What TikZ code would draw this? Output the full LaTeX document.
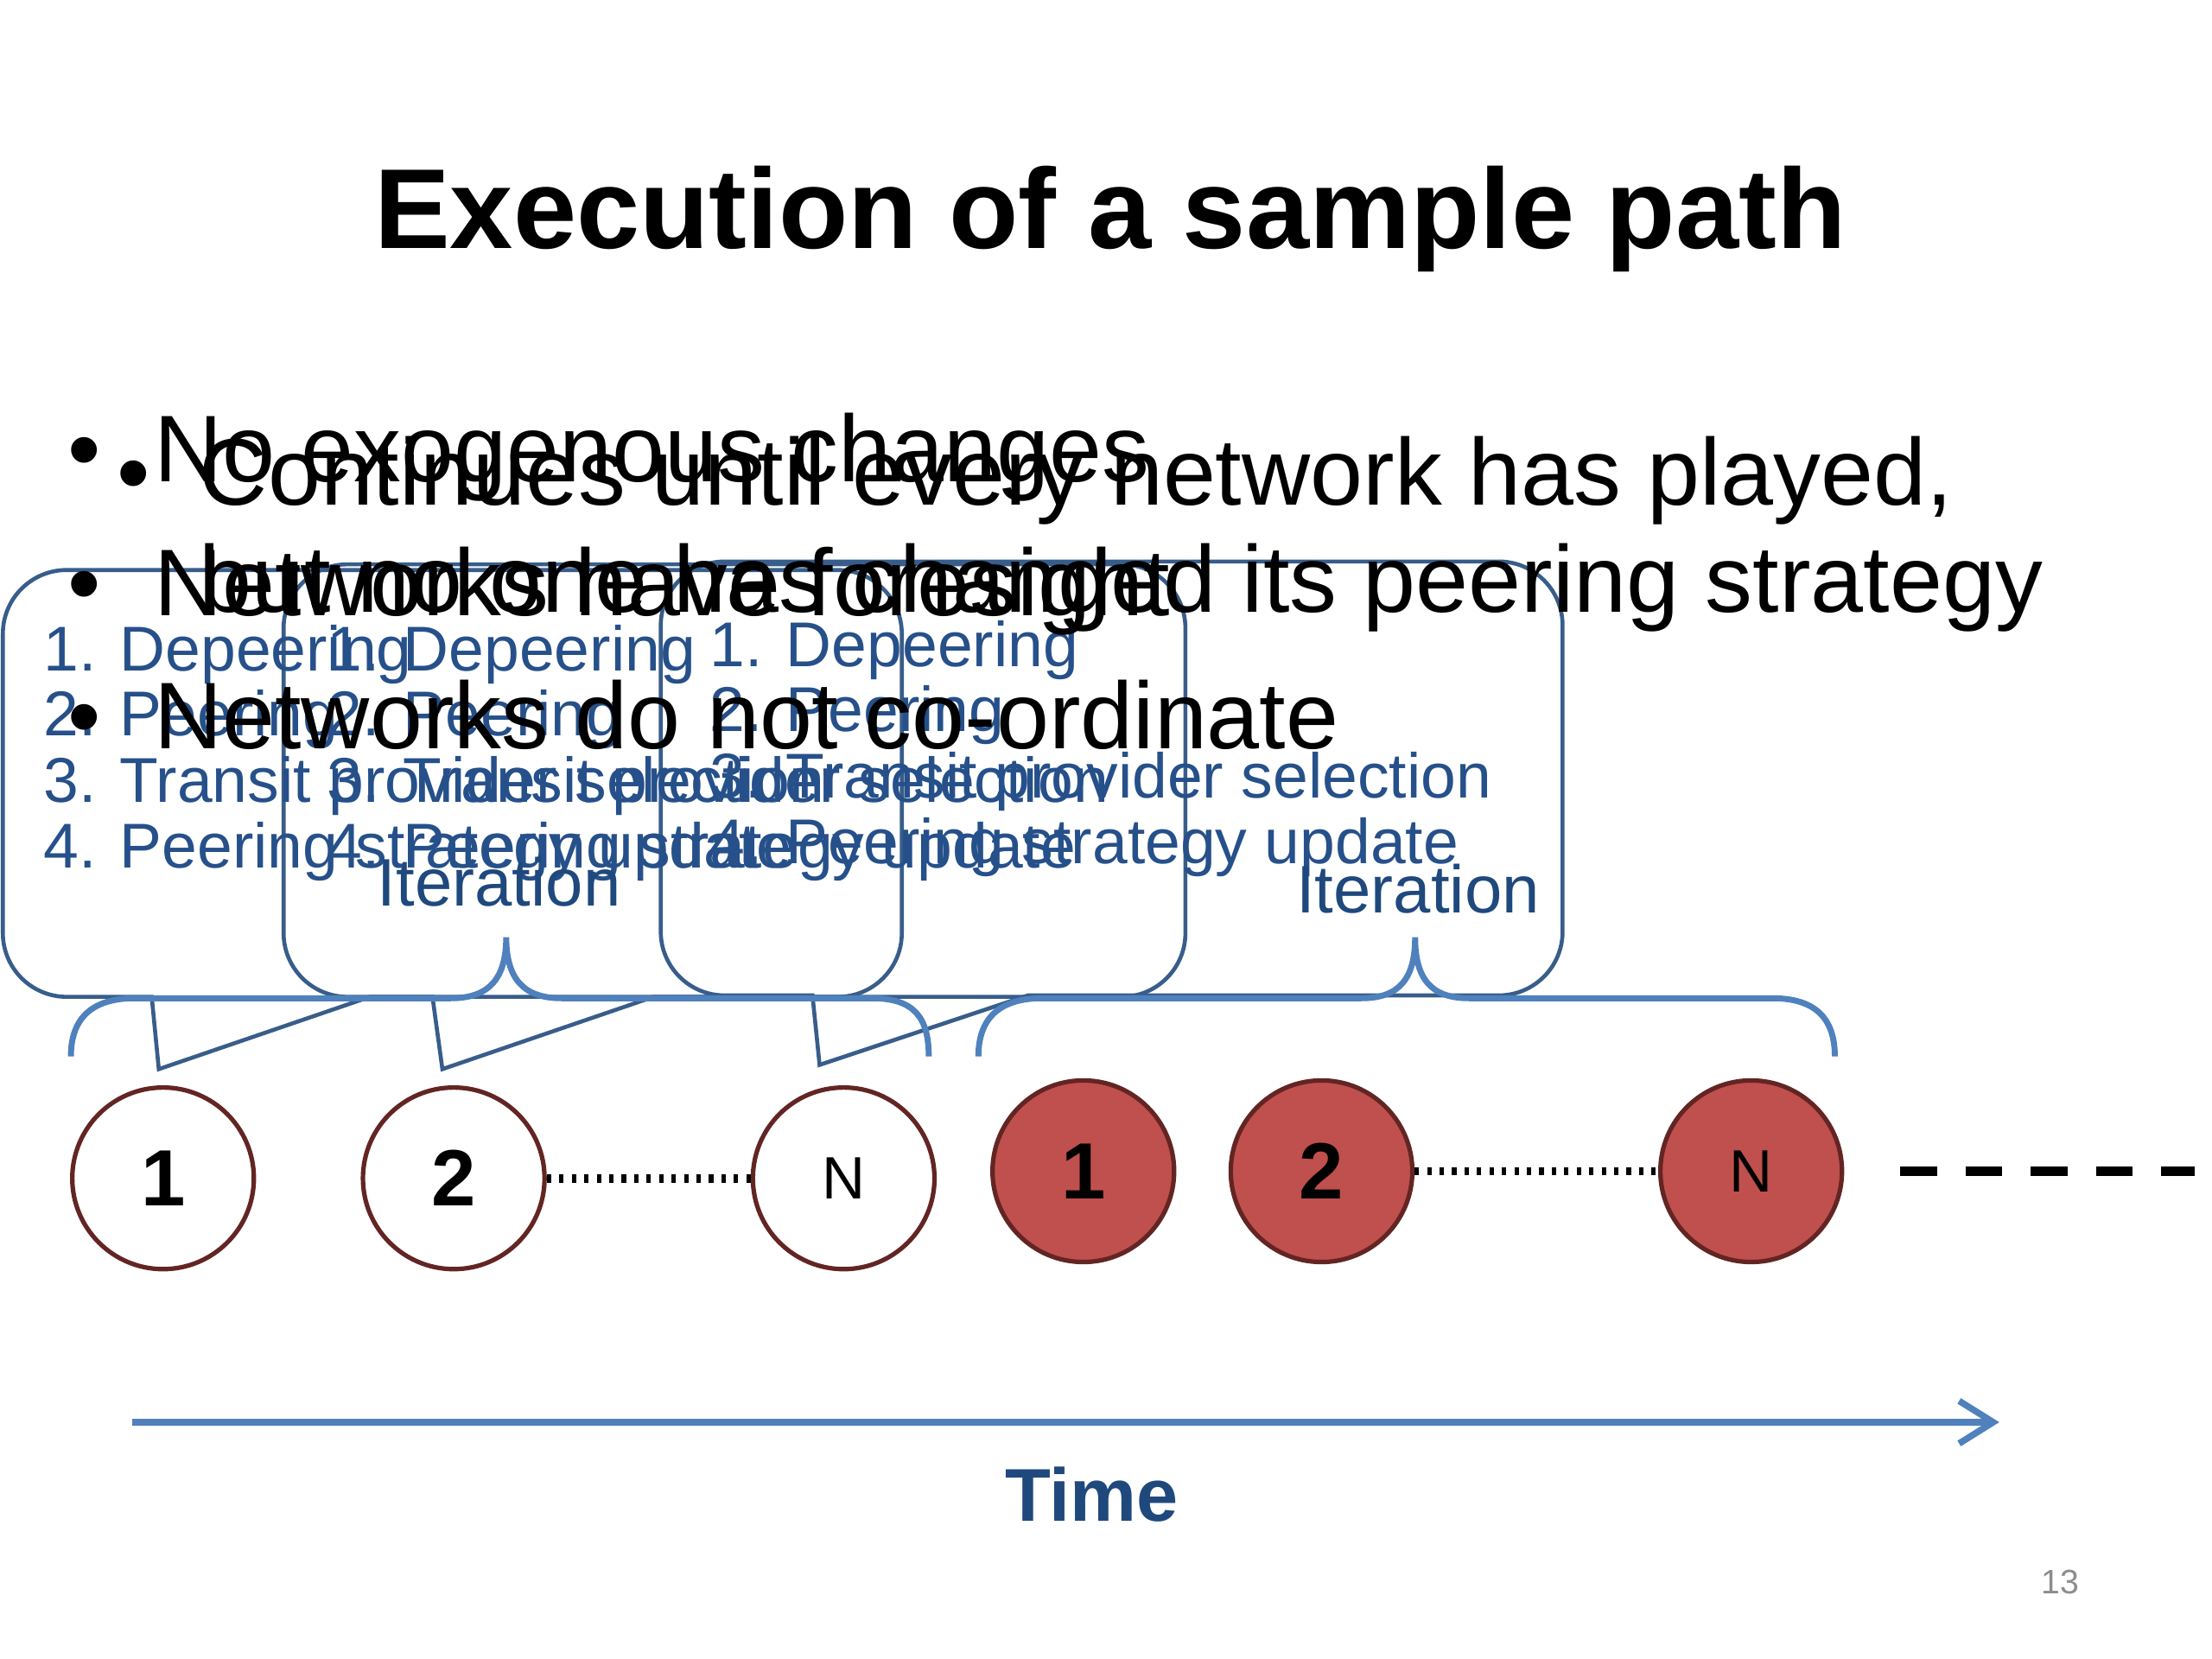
\documentclass[tikz,border=0pt]{standalone}
\usepackage{fontspec}
\setmainfont{Liberation Sans}
\usepackage{tikz}
\usetikzlibrary{arrows.meta}

\definecolor{calloutblue}{RGB}{56,93,138}
\definecolor{listblue}{RGB}{38,80,138}
\definecolor{braceblue}{RGB}{79,129,189}
\definecolor{darkblue}{RGB}{31,73,125}
\definecolor{nodered}{RGB}{192,80,77}
\definecolor{nodeline}{RGB}{99,37,35}
\definecolor{pagegray}{RGB}{140,140,140}

\begin{document}
\begin{tikzpicture}[x=0.01cm,y=-0.01cm,
	callout/.style={draw=calloutblue, line width=0.8pt},
	brace/.style={draw=braceblue, line width=1.2pt},
	listtext/.style={anchor=base west, inner sep=0pt, text=listblue, font=\fontsize{12.7}{15}\selectfont},
	itertext/.style={anchor=base, inner sep=0pt, text=darkblue, font=\fontsize{13.5}{16}\selectfont},
	bullettext/.style={anchor=base west, inner sep=0pt, font=\fontsize{19}{23}\selectfont},
	player/.style={circle, draw=nodeline, line width=0.9pt, minimum size=1.28cm, inner sep=0pt},
	played/.style={player, fill=nodered},
	bignum/.style={font=\bfseries\fontsize{16}{18}\selectfont},
	smallnum/.style={font=\fontsize{12}{14}\selectfont},
	dotline/.style={line width=1.7pt, dash pattern=on 0.9pt off 1.6pt},
	tail/.style={line width=2pt, dash pattern=on 0.26cm off 0.2cm},
	timeline/.style={draw=braceblue, line width=1.3pt, -{Straight Barb[length=0.24cm,width=0.3cm]}}]
	\tikzstyle{every node}=[scale=1.0000]
	
	\useasboundingbox (0,0) rectangle (1560,1170);
	
	%% title
	\node[anchor=base, font=\bfseries\fontsize{22.8}{27}\selectfont] (title) at (783,175) {Execution of a sample path};
	
	%% callouts
	\draw[callout] (112,754) -- (261,703) [rounded corners=0.45cm] -- (636,703) -- (636,402) -- (2,402) -- (2,703) [sharp corners] -- (107,703) -- cycle;
	\draw[callout] (312,754) -- (461,703) [rounded corners=0.45cm] -- (836,703) -- (836,398) -- (200,398) -- (200,703) [sharp corners] -- (305,703) -- cycle;
	\draw[callout] (578,751) -- (725,702) [rounded corners=0.45cm] -- (1102,702) -- (1102,396) -- (466,396) -- (466,702) [sharp corners] -- (573,702) -- cycle;
	
	\node[listtext] (depA) at (30,473) {1. Depeering};
	\node[listtext] (peerA) at (30,519) {2. Peering};
	\node[listtext] (transA) at (30,566) {3. Transit provider selection};
	\node[listtext] (stratA) at (30,612) {4. Peering strategy update};
	
	\node[listtext] (depB) at (230,473) {1. Depeering};
	\node[listtext] (peerB) at (230,519) {2. Peering};
	\node[listtext] (transB) at (230,566) {3. Transit provider selection};
	\node[listtext] (stratB) at (230,612) {4. Peering strategy update};
	
	\node[listtext] (depC) at (500,470) {1. Depeering};
	\node[listtext] (peerC) at (500,516) {2. Peering};
	\node[listtext] (transC) at (500,563) {3. Transit provider selection};
	\node[listtext] (stratC) at (500,609) {4. Peering strategy update};
	
	%% braces
	\draw[brace] (50,745) .. controls (50,718) and (65,704) .. (95,704) -- (318,704) .. controls (345,704) and (357,690) .. (357,661) .. controls (357,690) and (369,704) .. (396,704) -- (615,704) .. controls (645,704) and (655,718) .. (655,745);
	\draw[brace] (690,745) .. controls (690,718) and (705,704) .. (735,704) -- (960,704) .. controls (987,704) and (998,690) .. (998,661) .. controls (998,690) and (1009,704) .. (1036,704) -- (1250,704) .. controls (1280,704) and (1294,718) .. (1294,745);
	
	\node[itertext] (iterA) at (352,639) {Iteration};
	\node[itertext] (iterB) at (1000,644) {Iteration};
	
	%% bullets
	\node[bullettext] (dotA) at (47,340) {•};
	\node[bullettext] (noexo) at (108,340) {No exogenous changes};
	\node[bullettext] (dotB) at (47,434) {•};
	\node[bullettext] (foresight) at (108,434) {Networks have foresight};
	\node[bullettext] (dotC) at (47,528) {•};
	\node[bullettext] (nocoord) at (108,528) {Networks do not co-ordinate};
	\node[bullettext] (dotD) at (82,356) {•};
	\node[bullettext] (played) at (140,356) {Continues until every network has played,};
	\node[bullettext] (nochange) at (140,432) {but no one has changed its peering strategy};
	
	%% first iteration
	\node[player, bignum] (a1) at (115,831) {1};
	\node[player, bignum] (a2) at (320,831) {2};
	\node[player, smallnum] (aN) at (595,831) {N};
	\draw[dotline] (a2) -- (aN);
	
	%% second iteration
	\node[played, bignum] (b1) at (764,826) {1};
	\node[played, bignum] (b2) at (932,826) {2};
	\node[played, smallnum] (bN) at (1235,826) {N};
	\draw[dotline] (b2) -- (bN);
	
	\coordinate (tailstart) at (1340,826);
	\coordinate (tailend) at (1548,826);
	\draw[tail] (tailstart) -- (tailend);
	
	%% time axis
	\coordinate (tstart) at (93,1003);
	\coordinate (tend) at (1410,1003);
	\draw[timeline] (tstart) -- (tend);
	\node[anchor=base, text=darkblue, font=\bfseries\fontsize{15}{18}\selectfont] (timelabel) at (770,1073) {Time};
	
	\node[anchor=base, text=pagegray, font=\fontsize{6.8}{8}\selectfont] (pagenum) at (1453,1124) {13};

\end{tikzpicture}
\end{document}
